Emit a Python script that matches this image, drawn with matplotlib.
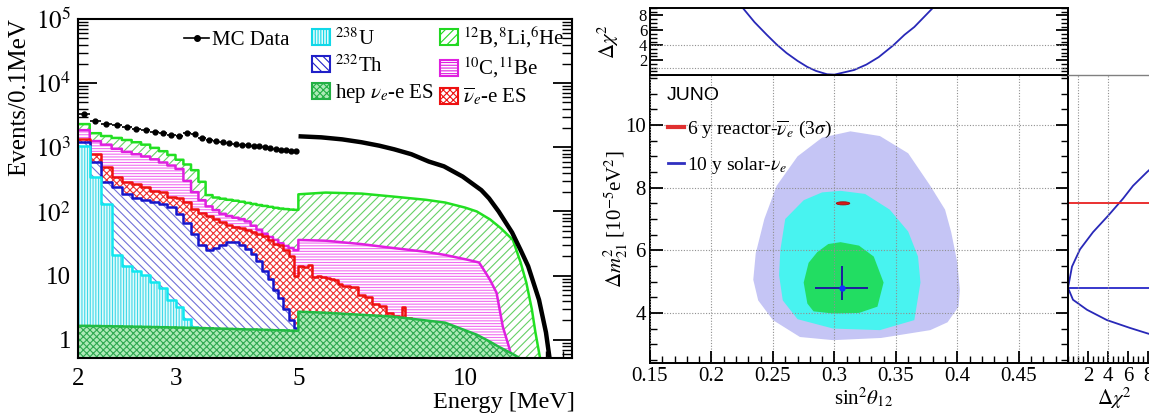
import numpy as np
import matplotlib
matplotlib.use("Agg")
import matplotlib.pyplot as plt
from matplotlib.lines import Line2D
from matplotlib.patches import Patch, Ellipse
from matplotlib.ticker import (FixedLocator, FuncFormatter, LogLocator,
                               MultipleLocator, NullFormatter)

plt.rcParams["font.family"] = ["Liberation Serif", "DejaVu Serif"]
plt.rcParams["mathtext.fontset"] = "stix"
plt.rcParams["hatch.linewidth"] = 0.8

# --------------------------------------------------------------------------- #
# Left panel: stacked background spectra (cumulative tops, events / 0.1 MeV)
# --------------------------------------------------------------------------- #
edges_lo = np.round(np.arange(2.0, 5.001, 0.1), 2)   # 0.1 MeV bins, 2-5 MeV

hep_lo = [1.65, 1.64, 1.63, 1.62, 1.61, 1.60, 1.59, 1.58, 1.57, 1.56,
          1.55, 1.54, 1.53, 1.52, 1.51, 1.50, 1.49, 1.48, 1.47, 1.46,
          1.45, 1.45, 1.44, 1.43, 1.42, 1.41, 1.41, 1.40, 1.39, 1.38]
u238_lo = [1030, 350, 130, 21, 14, 12, 10.4, 8, 6.5, 4.2,
           3.3, 2.1, 1.6, 1, 1, 1, 1, 1, 1, 1,
           1, 1, 1, 1, 1, 1, 1, 1, 1, 1]
th232_lo = [1200, 580, 290, 237, 190, 165, 150, 143, 130, 116,
            90, 65, 45, 30, 25, 27, 30, 33, 33, 30,
            26, 22, 17, 12, 9, 6, 4.5, 3, 2, 1.5]
es_lo = [1370, 780, 490, 350, 290, 265, 245, 205, 200, 170,
         165, 140, 110, 96, 85, 75, 68, 62, 58, 55,
         52, 48, 44, 41, 36, 31, 30, 25, 20, 10]
c10_lo = [1850, 1250, 1100, 950, 850, 780, 720, 650, 580, 520,
          460, 300, 200, 150, 120, 105, 92, 85, 80, 76,
          70, 60, 52, 45, 40, 36, 32, 29, 27, 25]
b12_lo = [2300, 1660, 1500, 1400, 1300, 1200, 1100, 980, 870, 760,
          640, 540, 440, 290, 180, 165, 158, 152, 147, 142,
          136, 131, 126, 122, 118, 114, 111, 109, 107, 106]

# above 5 MeV
hep_hi_e = [5.0, 5.6, 7.4, 9.2, 10.5, 11.1, 11.5, 12.2, 12.9]
hep_hi = [2.74, 2.64, 2.3, 1.85, 1.2, 0.93, 0.78, 0.6, 0.45]
es_hi_edges = [5.0, 5.1, 5.2, 5.3, 5.4, 5.5, 5.6, 5.7, 5.8, 5.9, 6.0,
               6.2, 6.4, 6.6, 6.8, 7.0, 7.2, 7.4, 7.6, 7.7, 7.8, 8.0]
es_hi = [14, 13.5, 14.5, 9.5, 9.8, 9.6, 9.2, 8.9, 8.7, 7.5,
         6.8, 6.6, 5.0, 4.6, 3.6, 3.4, 2.6, 2.35, 2.3, 3.3, 2.2]
c10_hi_e = [5.0, 5.6, 6.5, 7.4, 8.5, 9.2, 10.1, 10.6, 10.9, 11.1,
            11.4, 11.7, 12.0, 12.2]
c10_hi = [36, 35, 31, 27, 23.5, 21, 17.7, 16, 11, 8.5,
          5.4, 1.6, 0.78, 0.45]
b12_hi_e = [5.0, 5.6, 6.5, 7.4, 8.5, 9.2, 10.0, 10.5, 11.1, 11.6,
            12.2, 12.6, 12.9, 13.2, 13.4, 13.7]
b12_hi = [185, 197, 190, 171, 152, 138, 115, 100, 75, 55,
          36, 16, 7.8, 3, 1.3, 0.45]

# MC data points
mc_lo = [3300, 2550, 2350, 2200, 2050, 1950, 1850, 1750, 1650, 1550,
         1480, 1700, 1600, 1400, 1320, 1250, 1200, 1160, 1120, 1090,
         1070, 1050, 1030, 1000, 980, 950, 920, 900, 880, 865]
mc_hi_e = [5.05, 5.5, 6.0, 6.5, 7.0, 7.45, 8.0, 8.6, 9.16, 9.9,
           10.7, 11.05, 11.5, 12.16, 12.6, 13.0, 13.6, 14.0, 14.2]
mc_hi = [1480, 1430, 1330, 1200, 1060, 930, 780, 600, 505, 350,
         215, 160, 100, 47, 25, 14, 4.2, 1.3, 0.54]

# --------------------------------------------------------------------------- #
# Right panel: solar vs reactor sensitivity to (sin^2 theta12, dm2_21)
# --------------------------------------------------------------------------- #
c3_s2 = [0.313, 0.337, 0.360, 0.378, 0.390, 0.395, 0.400, 0.402, 0.401, 0.392,
         0.378, 0.338, 0.299, 0.272, 0.250, 0.238, 0.234, 0.236, 0.243, 0.253,
         0.270, 0.290]
c3_dm = [9.80, 9.65, 9.10, 8.06, 7.30, 6.58, 5.60, 4.74, 4.20, 3.70,
         3.45, 3.20, 3.13, 3.23, 3.77, 4.40, 5.06, 5.90, 7.00, 8.06,
         9.00, 9.60]
c2_s2 = [0.305, 0.325, 0.345, 0.360, 0.368, 0.370, 0.365, 0.337, 0.299, 0.270,
         0.258, 0.255, 0.256, 0.260, 0.275, 0.290]
c2_dm = [7.90, 7.80, 7.30, 6.60, 5.80, 4.97, 3.77, 3.45, 3.50, 3.80,
         4.40, 5.20, 6.00, 7.00, 7.60, 7.85]
c1_s2 = [0.305, 0.320, 0.332, 0.340, 0.335, 0.320, 0.299, 0.283, 0.278, 0.275,
         0.279, 0.286, 0.295]
c1_dm = [6.26, 6.15, 5.80, 4.97, 4.20, 4.00, 3.98, 4.05, 4.30, 4.97,
         5.60, 5.94, 6.20]

solar_best = (0.306, 4.80)
solar_err_s2 = (0.022, 0.021)
solar_err_dm = (0.40, 0.70)
reactor_best = (0.307, 7.50)
reactor_size = (0.011, 0.10)

top_s2 = [0.222, 0.2255, 0.235, 0.245, 0.253, 0.261, 0.270, 0.278, 0.285, 0.294,
          0.300, 0.316, 0.326, 0.336, 0.348, 0.357, 0.365, 0.380, 0.384]
top_chi2 = [9.6, 9.0, 7.1, 5.4, 4.1, 2.96, 1.9, 1.08, 0.55, 0.1,
            0.05, 0.67, 1.4, 2.4, 4.0, 5.4, 6.45, 9.0, 9.7]

right_dm2 = [3.2, 3.35, 3.52, 3.77, 4.1, 4.42, 4.8, 5.48, 6.03, 6.58,
             7.1, 7.65, 8.06, 8.5, 8.9]
right_chi2 = [9.5, 7.9, 6.2, 3.9, 1.9, 0.5, 0.0, 0.4, 1.2, 2.5,
              4.0, 5.5, 6.5, 7.9, 9.3]

W, H = 1149, 413


def box(x0, y0, x1, y1):
    """pixel box (top-left origin) -> figure fraction rect"""
    return [x0 / W, (H - y1) / H, (x1 - x0) / W, (y1 - y0) / H]


def outline(edges, vals, hi_e=None, hi_v=None):
    xs = np.repeat(np.asarray(edges, float), 2)[1:-1]
    ys = np.repeat(np.asarray(vals, float), 2)
    if hi_e is not None:
        xs = np.concatenate([xs, hi_e])
        ys = np.concatenate([ys, hi_v])
    return xs, ys


fig = plt.figure(figsize=(W / 100, H / 100), dpi=100)

# ---------------- left panel ----------------
ax = fig.add_axes(box(78, 19, 572, 358))
ax.set_xscale("log")
ax.set_yscale("log")
floor = 0.3

es_edges = np.concatenate([edges_lo, es_hi_edges[1:]])
layers = [
    # (xs, ys), line color, hatch color, face, hatch
    (outline(edges_lo, b12_lo, b12_hi_e, b12_hi), "#22e022", "#66d066", "white", "////"),
    (outline(edges_lo, c10_lo, c10_hi_e, c10_hi), "#e020e0", "#f070f0", "white", "------"),
    (outline(es_edges, es_lo + es_hi), "#ee1111", "#ee3030", "white", "xxxxx"),
    (outline(edges_lo, th232_lo), "#1515cc", "#7070d8", "white", "\\\\\\\\"),
    (outline(edges_lo, u238_lo), "#10e8f0", "#40d8e8", "#e0fbfb", "||||||"),
    (outline(edges_lo, hep_lo, hep_hi_e, hep_hi), "#22bb44", "#2ea850", "#aeeab8", "xxxxx"),
]
for z, ((xs, ys), lc, hc, face, hatch) in enumerate(layers):
    ax.fill_between(xs, ys, floor, facecolor=face, edgecolor=hc, hatch=hatch,
                    lw=0, zorder=2 + z)
    ax.plot(xs, ys, color=lc, lw=1.8, zorder=2.5 + z)

centres = 0.5 * (edges_lo[:-1] + edges_lo[1:])
ax.errorbar(centres, mc_lo, xerr=0.05, fmt="o", color="black", ms=3.5,
            lw=1.2, zorder=20)
ax.plot(mc_hi_e, mc_hi, color="black", lw=3.2, zorder=20)

ax.set_xlim(2, 15.6)
ax.set_ylim(0.52, 1e5)
ax.xaxis.set_major_locator(FixedLocator(range(2, 16)))
ax.xaxis.set_minor_locator(FixedLocator([]))
ax.xaxis.set_major_formatter(
    FuncFormatter(lambda v, p: f"{v:g}" if round(v) in (2, 3, 5, 10) else ""))
ax.yaxis.set_major_locator(LogLocator(base=10, numticks=10))
ax.yaxis.set_minor_locator(LogLocator(base=10, subs=np.arange(2, 10), numticks=20))
ax.yaxis.set_minor_formatter(NullFormatter())


def ylog_fmt(v, p):
    if v == 1:
        return "1"
    if v == 10:
        return "10"
    return rf"$10^{{{int(round(np.log10(v)))}}}$"


ax.yaxis.set_major_formatter(FuncFormatter(ylog_fmt))
ax.tick_params(axis="both", which="both", direction="in", labelsize=18)
ax.tick_params(axis="y", which="major", length=14, width=1.3, left=True, right=True, pad=5)
ax.tick_params(axis="y", which="minor", length=7, width=1.0, left=True, right=True)
ax.tick_params(axis="x", which="major", length=5, width=1.0, pad=7)
for s in ax.spines.values():
    s.set_linewidth(1.5)
    s.set_zorder(30)

ax.set_ylabel("Events/0.1MeV", fontsize=18)
ax.yaxis.set_label_coords(-0.097, 0.77)
ax.set_xlabel("Energy [MeV]", fontsize=17.5, ha="right")
ax.xaxis.set_label_coords(1.005, -0.1)

mc_handle = Line2D([], [], color="black", marker="o", ms=4, lw=1.2)
bkg_handles = [
    Patch(facecolor="#e0fbfb", edgecolor="#10d8e8", hatch="||||||", lw=1.5),
    Patch(facecolor="white", edgecolor="#2020c8", hatch="\\\\\\\\", lw=1.5),
    Patch(facecolor="#aeeab8", edgecolor="#22b044", hatch="xxxxx", lw=1.5),
    Patch(facecolor="white", edgecolor="#22d822", hatch="////", lw=1.5),
    Patch(facecolor="white", edgecolor="#e020e0", hatch="------", lw=1.5),
    Patch(facecolor="white", edgecolor="#ee1111", hatch="xxxxx", lw=1.5),
]
bkg_labels = [r"$^{238}$U", r"$^{232}$Th", r"hep $\nu_{e}$-e ES",
              r"$^{12}$B,$^{8}$Li,$^{6}$He", r"$^{10}$C,$^{11}$Be",
              r"$\overline{\nu}_{e}$-e ES"]
leg = ax.legend(bkg_handles, bkg_labels, ncol=2, loc="upper left",
                bbox_to_anchor=(0.474, 0.983), frameon=False, fontsize=15,
                handlelength=0.85, handleheight=0.8, handletextpad=0.25,
                labelspacing=0.27, columnspacing=0.3, borderpad=0,
                borderaxespad=0)
ax.add_artist(leg)
ax.legend([mc_handle], ["MC Data"], loc="upper left", bbox_to_anchor=(0.215, 0.966),
          frameon=False, fontsize=15, handlelength=1.2, handletextpad=0.15,
          borderpad=0, borderaxespad=0)

# ---------------- right panel ----------------
ax_m = fig.add_axes(box(650, 75, 1068, 363))
ax_t = fig.add_axes(box(650, 8, 1068, 75), sharex=ax_m)
ax_r = fig.add_axes(box(1068, 75, 1158, 363), sharey=ax_m)

ax_m.fill(c3_s2, c3_dm, color="#c5c5f5", lw=0, zorder=1)
ax_m.fill(c2_s2, c2_dm, color="#48f3f0", lw=0, zorder=1.1)
ax_m.fill(c1_s2, c1_dm, color="#22dd62", lw=0, zorder=1.2)
ax_m.add_patch(Ellipse(reactor_best, reactor_size[0], reactor_size[1],
                       facecolor="#d81818", edgecolor="#a01010", lw=0.6, zorder=4))
ax_m.errorbar([solar_best[0]], [solar_best[1]],
              xerr=[[solar_err_s2[0]], [solar_err_s2[1]]],
              yerr=[[solar_err_dm[0]], [solar_err_dm[1]]],
              fmt="o", color="#1c1ca0", mfc="#1030ff", mec="#1030ff", ms=3.5,
              lw=1.4, capsize=0, zorder=5)

ax_m.set_xlim(0.15, 0.49)
ax_m.set_ylim(2.4, 11.6)
ax_m.xaxis.set_major_locator(FixedLocator([0.15, 0.2, 0.25, 0.3, 0.35, 0.4, 0.45]))
ax_m.xaxis.set_minor_locator(MultipleLocator(0.01))
ax_m.xaxis.set_major_formatter(FuncFormatter(lambda v, p: f"{v:g}"))
ax_m.yaxis.set_major_locator(FixedLocator([4, 6, 8, 10]))
ax_m.yaxis.set_minor_locator(MultipleLocator(0.5))
ax_m.grid(True, which="major", ls=(0, (1, 1.5)), color="#909090", lw=0.8)
ax_m.set_axisbelow(False)
ax_m.tick_params(axis="both", which="both", direction="in", labelsize=15,
                 left=True, right=True, top=False)
ax_m.tick_params(axis="both", which="major", length=9, width=1.3, pad=3)
ax_m.tick_params(axis="both", which="minor", length=5, width=1.0)
ax_m.set_xlabel(r"sin$^{2}\theta_{12}$", fontsize=15)
ax_m.xaxis.set_label_coords(0.51, -0.08)
ax_m.set_ylabel(r"$\Delta m^{2}_{21}$ [10$^{-5}$eV$^{2}$]", fontsize=15)
ax_m.yaxis.set_label_coords(-0.048, 0.5)
ax_m.text(0.04, 0.93, "JUNO", transform=ax_m.transAxes, fontsize=14,
          family="Liberation Sans", va="center", zorder=6)
ax_m.legend([Line2D([], [], color="#e03030", lw=3),
             Line2D([], [], color="#3030c0", lw=2)],
            [r"6 y reactor-$\overline{\nu}_{e}$ (3$\sigma$)", r"10 y solar-$\nu_{e}$"],
            loc="upper left", bbox_to_anchor=(0.043, 0.85), frameon=False,
            fontsize=14, handlelength=0.8, handletextpad=0.2, labelspacing=0.75,
            borderpad=0, borderaxespad=0)

ax_t.plot(top_s2, top_chi2, color="#2828b8", lw=1.3)
ax_t.set_ylim(0, 9)
ax_t.yaxis.set_major_locator(FixedLocator([2, 4, 6, 8]))
ax_t.yaxis.set_minor_locator(MultipleLocator(0.5))
for lvl in (1, 4):
    ax_t.axhline(lvl, ls=(0, (1, 1.5)), color="#909090", lw=0.8)
ax_t.tick_params(axis="both", which="both", direction="in", labelsize=12,
                 left=True, right=True, bottom=False, labelbottom=False)
ax_t.tick_params(axis="y", which="major", length=9, width=1.3, pad=2)
ax_t.tick_params(axis="y", which="minor", length=5, width=1.0)
ax_t.set_ylabel(r"$\Delta\chi^{2}$", fontsize=15)
ax_t.yaxis.set_label_coords(-0.07, 0.5)

ax_r.plot(right_chi2, right_dm2, color="#2828b8", lw=1.3)
ax_r.axhline(reactor_best[1], color="#e82020", lw=1.3)
ax_r.axhline(solar_best[1], color="#2828c8", lw=1.3)
for lvl in (1, 4):
    ax_r.axvline(lvl, ls=(0, (1, 1.5)), color="#909090", lw=0.8)
ax_r.set_xlim(0, 9)
ax_r.xaxis.set_major_locator(FixedLocator([2, 4, 6, 8]))
ax_r.xaxis.set_minor_locator(MultipleLocator(0.5))
ax_r.tick_params(axis="both", which="both", direction="in", labelsize=15,
                 left=False, right=False, labelleft=False)
ax_r.tick_params(axis="x", which="major", length=9, width=1.3, pad=3)
ax_r.tick_params(axis="x", which="minor", length=5, width=1.0)
ax_r.spines["top"].set_color("#808080")
ax_r.set_xlabel(r"$\Delta\chi^{2}$", fontsize=15)
ax_r.xaxis.set_label_coords(0.52, -0.08)

for a in (ax_m, ax_t, ax_r):
    for s in a.spines.values():
        s.set_linewidth(1.4)
ax_r.spines["top"].set_linewidth(1.0)

fig.savefig("out.png", dpi=100)
